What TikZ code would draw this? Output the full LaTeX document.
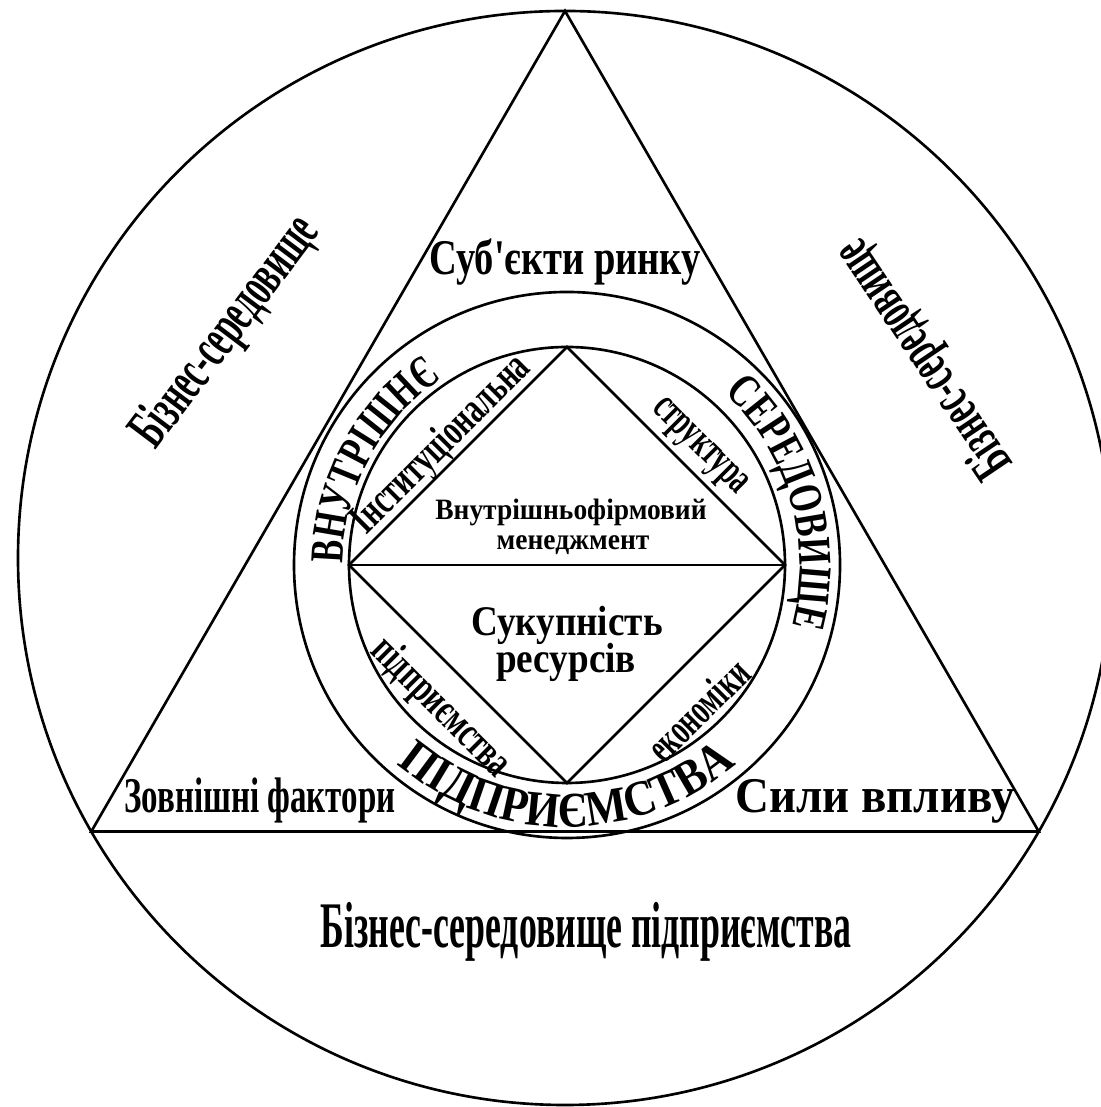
\documentclass[tikz,border=0pt]{standalone}
\usepackage{fontspec}
\usepackage{graphicx}
\usepackage{tikz}
\usetikzlibrary{decorations.text}
\setmainfont{Liberation Serif}[Ligatures=TeXOff]
\newfontfamily\ringfontA[FakeStretch=0.72]{Liberation Serif}
\newfontfamily\ringfontB[FakeStretch=0.74]{Liberation Serif}
\newfontfamily\ringfontC[FakeStretch=0.88]{Liberation Serif}
\newcommand{\squeeze}[2]{\scalebox{#1}[1]{#2}}
\definecolor{InkBlack}{HTML}{000000}

\begin{document}
\begin{tikzpicture}[x=0.01cm,y=0.01cm, line width=0.75pt, color=InkBlack,
  every node/.style={inner sep=0pt},
  bigtext/.style={font=\bfseries\fontsize{14.2}{16}\selectfont},
  wingtext/.style={font=\bfseries\fontsize{16.5}{18}\selectfont},
  sidetext/.style={font=\bfseries\fontsize{12.5}{14}\selectfont},
  smalltext/.style={font=\bfseries\fontsize{8.4}{9}\selectfont}]
  \useasboundingbox (0,0) rectangle (1101,1107);
  \clip (0,0) rectangle (1101,1107);

  \coordinate (outer) at (565,549);
  \coordinate (mid) at (567,542);
  \path (outer) ++(90:547) coordinate (apex);
  \path (outer) ++(210:547) coordinate (baseL);
  \path (outer) ++(330:547) coordinate (baseR);
  \path (mid) ++(90:218) coordinate (dtop);
  \path (mid) ++(180:218) coordinate (dleft);
  \path (mid) ++(270:218) coordinate (dbot);
  \path (mid) ++(0:218) coordinate (dright);

  \draw (outer) circle[radius=547];
  \draw (apex) -- (baseR) -- (baseL) -- cycle;
  \draw (mid) circle[radius=273];
  \draw (mid) circle[radius=218];
  \draw (dtop) -- (dright) -- (dbot) -- (dleft) -- cycle;
  \draw (dleft) -- (dright);

  \node[bigtext, anchor=base] (subj) at (565,832) {\squeeze{0.77}{Суб'єкти ринку}};
  \node[bigtext, anchor=base] (zovn) at (260,294) {\squeeze{0.66}{Зовнішні фактори}};
  \node[bigtext, anchor=base] (syly) at (875,294) {\squeeze{0.94}{Сили впливу}};
  \node[font=\bfseries\fontsize{18.5}{20}\selectfont, anchor=base] (bizbot) at (586,159)
    {\squeeze{0.55}{Бізнес-середовище підприємства}};
  \node[wingtext, rotate=53] (bizleft) at (227,774) {\squeeze{0.56}{Бізнес-середовище}};
  \node[wingtext, rotate=124] (bizright) at (925,749) {\squeeze{0.56}{Бізнес-середовище}};

  \node[sidetext, rotate=45] (inst) at (442,662) {\squeeze{0.66}{Інституціональна}};
  \node[sidetext, rotate=-45] (strukt) at (698,659) {\squeeze{0.6}{структура}};
  \node[sidetext, rotate=-45] (pidpr) at (440,399) {\squeeze{0.66}{підприємства}};
  \node[sidetext, rotate=45] (ekon) at (698,397) {\squeeze{0.61}{економіки}};

  \node[smalltext] (vnfirm) at (571,595) {\squeeze{0.93}{Внутрішньофірмовий}};
  \node[smalltext] (menedzh) at (573,562) {\squeeze{0.93}{менеджмент}};
  \node[font=\bfseries\fontsize{12}{13}\selectfont] (sukup) at (567,482) {\squeeze{0.88}{Сукупність}};
  \node[font=\bfseries\fontsize{12}{13}\selectfont] (resurs) at (566,445) {\squeeze{0.88}{ресурсів}};

  \path[decorate, decoration={text along path, text align=center,
    text={|\ringfontA\bfseries\fontsize{13.4}{15}\selectfont|ВНУТРІШНЄ}}]
    (mid) ++(190:224) arc[start angle=190, end angle=113.5, radius=224];
  \path[decorate, decoration={text along path, text align=center,
    text={|\ringfontB\bfseries\fontsize{13.4}{15}\selectfont|СЕРЕДОВИЩЕ}}]
    (mid) ++(61:233) arc[start angle=61, end angle=-28.5, radius=233];
  \path[decorate, decoration={text along path, text align=center,
    text={|\ringfontC\bfseries\fontsize{14.2}{16}\selectfont|ПІДПРИЄМСТВА}}]
    (mid) ++(200:262) arc[start angle=200, end angle=340, radius=262];
\end{tikzpicture}
\end{document}
